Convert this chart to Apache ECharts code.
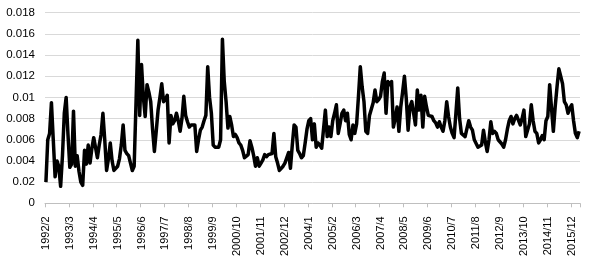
<!DOCTYPE html>
<html>
<head>
<meta charset="utf-8">
<script src="https://cdn.jsdelivr.net/npm/echarts@6/dist/echarts.min.js"></script>
<style>
html,body{margin:0;padding:0;background:#fff;}
#chart{width:589px;height:264px;}
</style>
</head>
<body>
<div id="chart"></div>
<script>
// Monthly series starting 1992/2
var startYear = 1992, startMonth = 2;
var values = [
0.0020,0.0060,0.0066,0.0095,0.0060,0.0025,0.0040,0.0035,0.0016,0.0045,
0.0085,0.0100,0.0065,0.0034,0.0037,0.0087,0.0035,0.0045,0.0030,0.0020,
0.0017,0.0050,0.0037,0.0055,0.0038,0.0052,0.0062,0.0063,0.0043,0.0055,
0.0065,0.0085,0.0060,0.0031,0.0042,0.0057,0.0040,0.0031,0.0033,0.0035,
0.0042,0.0055,0.0074,0.0050,0.0047,0.0045,0.0038,0.0031,0.0035,0.0036,
0.0154,0.0083,0.0131,0.0100,0.0082,0.0112,0.0105,0.0096,0.0070,0.0049,
0.0068,0.0088,0.0100,0.0113,0.0096,0.0098,0.0102,0.0057,0.0083,0.0075,
0.0078,0.0085,0.0078,0.0068,0.0080,0.0101,0.0083,0.0077,0.0072,0.0074,
0.0075,0.0074,0.0049,0.0060,0.0069,0.0072,0.0078,0.0083,0.0129,0.0100,
0.0085,0.0055,0.0053,0.0052,0.0053,0.0060,0.0155,0.0115,0.0096,0.0071,
0.0082,0.0074,0.0063,0.0065,0.0062,0.0057,0.0055,0.0050,0.0043,0.0044,
0.0046,0.0059,0.0053,0.0045,0.0035,0.0043,0.0035,0.0038,0.0041,0.0046,
0.0044,0.0046,0.0046,0.0047,0.0066,0.0044,0.0038,0.0031,0.0033,0.0035,
0.0038,0.0043,0.0048,0.0033,0.0055,0.0074,0.0072,0.0050,0.0047,0.0043,
0.0045,0.0057,0.0070,0.0078,0.0080,0.0060,0.0075,0.0053,0.0057,0.0055,
0.0052,0.0052,0.0088,0.0063,0.0072,0.0063,0.0078,0.0085,0.0093,0.0066,
0.0075,0.0085,0.0088,0.0078,0.0085,0.0065,0.0060,0.0074,0.0066,0.0075,
0.0101,0.0129,0.0110,0.0096,0.0068,0.0066,0.0083,0.0082,0.0095,0.0107,
0.0096,0.0098,0.0101,0.0115,0.0123,0.0085,0.0115,0.0112,0.0115,0.0072,
0.0080,0.0091,0.0068,0.0091,0.0105,0.0120,0.0099,0.0069,0.0091,0.0096,
0.0085,0.0074,0.0107,0.0088,0.0102,0.0072,0.0101,0.0091,0.0083,0.0084,
0.0082,0.0078,0.0076,0.0072,0.0077,0.0072,0.0068,0.0078,0.0096,0.0082,
0.0072,0.0066,0.0062,0.0085,0.0109,0.0080,0.0066,0.0065,0.0063,0.0064,
0.0078,0.0072,0.0069,0.0060,0.0059,0.0053,0.0053,0.0055,0.0069,0.0058,
0.0049,0.0060,0.0077,0.0066,0.0068,0.0066,0.0060,0.0060,0.0056,0.0053,
0.0060,0.0070,0.0078,0.0082,0.0075,0.0080,0.0083,0.0082,0.0074,0.0080,
0.0088,0.0063,0.0063,0.0075,0.0093,0.0078,0.0068,0.0066,0.0057,0.0060,
0.0064,0.0060,0.0078,0.0082,0.0112,0.0090,0.0068,0.0091,0.0110,0.0127,
0.0120,0.0113,0.0096,0.0093,0.0085,0.0090,0.0093,0.0078,0.0066,0.0062,
0.0068
];
var yTickLabels = ['0','0.02','0.004','0.006','0.008','0.01','0.012','0.014','0.016','0.018'];

var categories = [];
for (var i = 0; i < values.length; i++) {
  var m = startMonth - 1 + i;
  categories.push((startYear + Math.floor(m / 12)) + '/' + (m % 12 + 1));
}

var chart = echarts.init(document.getElementById('chart'), null, {renderer: 'canvas'});
chart.setOption({
  animation: false,
  backgroundColor: '#fff',
  grid: {left: 45, right: 9, top: 12.7, bottom: 60.7, containLabel: false},
  xAxis: {
    type: 'category',
    data: categories,
    boundaryGap: true,
    axisLine: {lineStyle: {color: '#bfbfbf', width: 1}},
    axisTick: {show: true, interval: 12, length: 4, lineStyle: {color: '#bfbfbf'}},
    axisLabel: {
      interval: 12, rotate: 90, margin: 13,
      fontFamily: 'Liberation Sans, Arial, sans-serif', fontSize: 11, color: '#000'
    },
    splitLine: {show: false}
  },
  yAxis: {
    type: 'value',
    min: 0, max: 0.018, interval: 0.002,
    axisLine: {show: false},
    axisTick: {show: false},
    axisLabel: {
      margin: 10,
      fontFamily: 'Liberation Sans, Arial, sans-serif', fontSize: 11.5, color: '#000',
      formatter: function (v) {
        var k = Math.round(v / 0.002);
        return yTickLabels[k] !== undefined ? yTickLabels[k] : '';
      }
    },
    splitLine: {lineStyle: {color: '#d9d9d9', width: 1}}
  },
  series: [{
    type: 'line',
    data: values,
    showSymbol: false,
    symbol: 'none',
    lineStyle: {color: '#000', width: 3.5, join: 'round'},
    itemStyle: {color: '#000'}
  }]
});
</script>
</body>
</html>
